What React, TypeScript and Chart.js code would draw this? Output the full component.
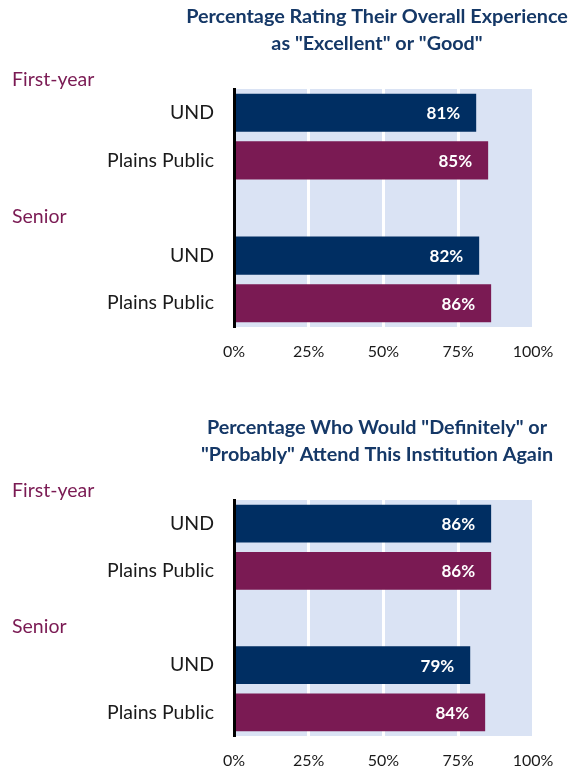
import React, { useEffect, useRef } from 'react';
import { Chart, registerables } from 'chart.js';

Chart.register(...registerables);

// ---- data ----
const categories = ['UND', 'Plains Public', '', 'UND', 'Plains Public'];
const groupLabels = ['First-year', 'Senior'];
const xTickValues = [0, 25, 50, 75, 100];

const title1 = ['Percentage Rating Their Overall Experience', 'as "Excellent" or "Good"'];
const title2 = ['Percentage Who Would "Definitely" or', '"Probably" Attend This Institution Again'];

// [UND, Plains Public]
const overallFirstYear = [81, 85];
const overallSenior = [82, 86];
const attendFirstYear = [86, 86];
const attendSenior = [79, 84];

// ---- styles ----
const NAVY = '#002E62';
const MAROON = '#7A1A53';
const TITLE_COLOR = '#153867';
const PLOT_BG = '#DAE3F4';
const FONT = 'Lato';

type PanelProps = {
  top: number;
  height: number;
  plotTop: number;
  plotBottom: number;
  title: string[];
  firstYear: number[];
  senior: number[];
};

function Panel({ top, height, plotTop, plotBottom, title, firstYear, senior }: PanelProps) {
  const ref = useRef<HTMLCanvasElement>(null);

  useEffect(() => {
    if (!ref.current) return;
    const values = [firstYear[0], firstYear[1], null, senior[0], senior[1]];
    const colors = [NAVY, MAROON, NAVY, NAVY, MAROON];
    const xAxisH = 30;

    const bgPlugin = {
      id: 'plotBg',
      beforeDraw(chart: any) {
        const { ctx, chartArea } = chart;
        ctx.save();
        ctx.fillStyle = PLOT_BG;
        ctx.fillRect(chartArea.left, chartArea.top, chartArea.right - chartArea.left, chartArea.bottom - chartArea.top);
        ctx.restore();
      },
    };

    const textPlugin = {
      id: 'texts',
      afterDatasetsDraw(chart: any) {
        const { ctx } = chart;
        const meta = chart.getDatasetMeta(0);
        const data = chart.data.datasets[0].data;
        ctx.save();
        ctx.font = `bold 17px ${FONT}`;
        ctx.fillStyle = '#FFFFFF';
        ctx.textAlign = 'right';
        ctx.textBaseline = 'middle';
        meta.data.forEach((bar: any, i: number) => {
          const v = data[i];
          if (v == null) return;
          ctx.fillText(`${v}%`, bar.x - 16, bar.y + 1);
        });
        ctx.restore();
      },
      afterDraw(chart: any) {
        const { ctx, chartArea } = chart;
        const yScale = chart.scales.y;
        ctx.save();
        ctx.font = `bold 19.8px ${FONT}`;
        ctx.fillStyle = TITLE_COLOR;
        ctx.textAlign = 'center';
        ctx.textBaseline = 'middle';
        title.forEach((line, i) => {
          ctx.fillText(line, 377, chartArea.top - 72 + i * 27);
        });
        ctx.font = `19.5px ${FONT}`;
        ctx.fillStyle = MAROON;
        ctx.textAlign = 'left';
        ctx.fillText(groupLabels[0], 12, chartArea.top - 9);
        ctx.fillText(groupLabels[1], 12, yScale.getPixelForValue(2) + 9);
        ctx.restore();
      },
    };

    const chart = new Chart(ref.current, {
      type: 'bar',
      data: {
        labels: categories,
        datasets: [
          {
            data: values as any,
            backgroundColor: colors,
            barPercentage: 0.8,
            categoryPercentage: 1,
          },
        ],
      },
      options: {
        indexAxis: 'y',
        responsive: false,
        animation: false,
        layout: {
          padding: { top: plotTop, right: 47, bottom: height - plotBottom - xAxisH, left: 0 },
        },
        plugins: {
          legend: { display: false },
          tooltip: { enabled: false },
          title: { display: false },
        },
        scales: {
          x: {
            type: 'linear',
            position: 'bottom',
            min: 0,
            max: 100,
            afterFit: (s: any) => {
              s.height = xAxisH;
            },
            afterBuildTicks: (s: any) => {
              s.ticks = xTickValues.map((v) => ({ value: v }));
            },
            ticks: {
              callback: (v: any) => `${v}%`,
              padding: 15,
              font: { family: FONT, size: 16 },
              color: '#1A1A1A',
              maxRotation: 0,
              autoSkip: false,
            },
            grid: { color: '#FFFFFF', lineWidth: 3, drawTicks: false },
            border: { display: false },
          },
          y: {
            afterFit: (s: any) => {
              s.width = 234;
            },
            ticks: {
              padding: 20,
              font: { family: FONT, size: 19.5 },
              color: '#1A1A1A',
              autoSkip: false,
            },
            grid: { display: false, drawTicks: false },
            border: { display: true, color: '#000000', width: 3, z: 1 },
          },
        },
      } as any,
      plugins: [bgPlugin, textPlugin],
    });
    return () => chart.destroy();
  }, []);

  return (
    <canvas
      ref={ref}
      width={580}
      height={height}
      style={{ position: 'absolute', left: 0, top, width: 580, height, display: 'block' }}
    />
  );
}

export default function App() {
  return (
    <div style={{ position: 'absolute', left: 0, top: 0, width: 580, height: 770, background: '#FFFFFF' }}>
      <Panel top={0} height={385} plotTop={89} plotBottom={327} title={title1} firstYear={overallFirstYear} senior={overallSenior} />
      <Panel top={411} height={359} plotTop={89} plotBottom={325} title={title2} firstYear={attendFirstYear} senior={attendSenior} />
    </div>
  );
}
